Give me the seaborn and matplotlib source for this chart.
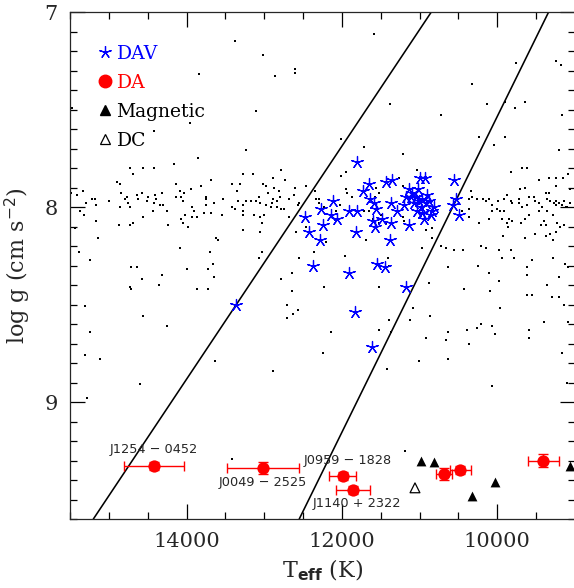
import matplotlib
matplotlib.use('Agg')
import matplotlib.pyplot as plt
from matplotlib.lines import Line2D
from matplotlib.ticker import MultipleLocator, FormatStrFormatter
import seaborn as sns

# background white dwarf sample (Teff in K, log g)
bg_teff = [15470, 14420, 13960, 13840, 13380, 13020, 12610, 12610, 12860, 13100, 13240, 13850, 14160, 14730,
           14560, 14420, 14690, 13280, 13140, 12790, 12890, 12730, 14890, 14860, 13690, 13420, 13310, 12980,
           14130, 13810, 13940, 13350, 12950, 12810, 15410, 15330, 14840, 14770, 14640, 14570, 14500, 14400,
           14320, 14090, 14030, 13750, 12610, 12620, 12460, 15490, 15220, 15180, 15290, 15160, 15000, 14860,
           14790, 14750, 14730, 14620, 14510, 14390, 14420, 14340, 14300, 14250, 14430, 14130, 14070, 14040,
           13750, 13650, 13930, 13900, 13780, 13750, 13530, 13420, 13380, 13340, 13280, 13230, 13170, 13100,
           13050, 12890, 12830, 12780, 12900, 12680, 12550, 15370, 15320, 15170, 14870, 14730, 14690, 14560,
           14240, 14070, 14050, 13980, 13930, 13870, 14020, 13680, 13540, 13280, 13130, 13060, 13000, 13030,
           15440, 15140, 13620, 13600, 13280, 13050, 13270, 12980, 12910, 12840, 12750, 12800, 13070, 12680,
           12560, 12590, 12330, 12290, 13020, 12880, 15390, 15240, 14080, 13700, 13660, 14000, 13720, 13070,
           13030, 12550, 14720, 14640, 14320, 14580, 13650, 12790, 14730, 14710, 14350, 13870, 13730, 12640,
           12640, 15310, 12710, 12570, 12630, 12710, 14560, 14250, 15240, 15310, 15120, 14600, 15280, 13630,
           12890, 13410,
           11590, 11380, 12010, 11710, 11220, 12010, 11950, 11870, 11930, 12300, 11220, 11030, 12350, 11950,
           11560, 11520, 11260, 12030, 12080, 11710, 11500, 11460, 11430, 11220, 11200, 10920, 10840, 12360,
           11960, 11410, 11390, 11690, 12200, 12230, 11520, 11520, 12140, 11090, 10970, 10840, 10730, 10660,
           10560, 10440, 10640, 10880, 11400, 11370, 11130, 10640, 10870, 12240, 11420, 10920, 10660, 11010,
           10630, 11190, 11650, 11600, 11520, 12460, 11580, 12230,
           10720, 10330, 10130, 10240, 9900, 10040, 9900, 9760, 9250, 9180, 9640, 9770, 9170, 9200, 9820,
           9680, 9620, 9470, 9340, 9250, 9710, 9640, 9380, 9240, 10340, 10320, 9160, 9090, 9060, 10260, 10190,
           10110, 10070, 9990, 9960, 10000, 10150, 10360, 10370, 10450, 9920, 9870, 9920, 10070, 9830, 9720,
           9590, 9530, 9510, 9460, 9360, 9320, 9270, 9250, 9170, 9120, 9070, 9810, 9720, 9680, 9620, 9420,
           9250, 9210, 9140, 9100, 9340, 9940, 9850, 9810, 9700, 9590, 9470, 9360, 9290, 9370, 9230, 9190,
           9140, 10240, 10360, 9860, 9930, 9640, 9380, 9250, 9290, 10110, 9870, 9640, 9400, 9510, 9440, 9320,
           10210, 10150, 9980, 9940, 9820, 9550, 9620, 9290, 9130, 9090, 10250, 10110, 9980, 9790, 10430,
           10090, 9620, 9360, 9620, 9550, 9210, 9200, 9140, 9300, 9960, 9400, 9090, 10390, 10260, 10030, 9590,
           10210, 10070, 10360, 9590, 9170, 9100, 10070]
bg_logg = [7.49, 7.61, 7.57, 7.32, 7.15, 7.22, 7.29, 7.31, 7.33, 7.51, 7.71, 7.75, 7.78, 7.80,
           7.80, 7.80, 7.83, 7.83, 7.83, 7.81, 7.85, 7.86, 7.87, 7.88, 7.86, 7.88, 7.88, 7.89,
           7.88, 7.89, 7.91, 7.92, 7.93, 7.92, 7.94, 7.92, 7.93, 7.95, 7.94, 7.93, 7.95, 7.94,
           7.93, 7.92, 7.93, 7.95, 7.90, 7.94, 7.89, 7.93, 7.96, 7.96, 7.98, 7.99, 7.97, 8.00,
           7.96, 7.98, 8.00, 7.96, 7.97, 7.96, 7.98, 7.99, 7.99, 8.02, 8.02, 7.95, 7.95, 7.97,
           7.96, 7.98, 8.00, 8.02, 8.03, 7.99, 7.96, 8.00, 8.01, 7.97, 7.99, 7.97, 7.97, 7.97,
           7.98, 7.96, 8.00, 8.01, 7.98, 7.96, 7.98, 8.02, 8.04, 8.07, 8.09, 8.09, 8.08, 8.05,
           8.09, 8.06, 8.08, 8.10, 8.05, 8.05, 8.04, 8.03, 8.04, 8.04, 8.04, 8.05, 8.04, 8.08,
           8.11, 8.16, 8.16, 8.17, 8.12, 8.13, 8.02, 7.99, 8.00, 7.97, 8.01, 7.95, 7.95, 8.05,
           7.99, 8.13, 7.96, 7.98, 7.88, 7.90, 8.23, 8.27, 8.21, 8.23, 8.29, 8.32, 8.32, 8.26,
           8.23, 8.26, 8.31, 8.31, 8.35, 8.37, 8.36, 8.37, 8.41, 8.42, 8.40, 8.42, 8.42, 8.43,
           8.34, 8.51, 8.50, 8.53, 8.55, 8.57, 8.56, 8.61, 8.64, 8.76, 8.78, 8.91, 8.98, 8.79,
           8.84, 9.29,
           7.11, 7.47, 7.65, 7.69, 7.73, 7.84, 7.82, 7.95, 7.93, 7.96, 7.89, 7.81, 7.92, 7.91,
           7.90, 7.93, 7.85, 7.99, 8.02, 8.02, 8.04, 8.06, 8.08, 8.05, 8.07, 8.12, 8.11, 8.23,
           8.25, 8.26, 8.30, 8.17, 8.18, 8.41, 8.41, 8.63, 8.64, 8.52, 8.21, 8.16, 8.20, 8.21,
           8.22, 8.22, 8.31, 8.39, 8.58, 8.64, 8.58, 8.64, 8.56, 8.75, 8.83, 8.67, 8.68, 8.79,
           8.78, 9.25, 8.02, 8.06, 8.08, 8.10, 7.95, 8.00,
           7.53, 7.37, 7.47, 7.64, 7.64, 7.68, 7.46, 7.26, 7.25, 7.27, 7.46, 7.49, 7.53, 7.71, 7.82,
           7.80, 7.80, 7.86, 7.85, 7.85, 7.91, 7.90, 7.93, 7.89, 7.92, 7.95, 7.85, 7.83, 7.91, 7.96, 7.96,
           7.96, 7.99, 7.97, 8.02, 8.01, 7.97, 7.96, 8.01, 8.02, 7.96, 7.94, 8.02, 8.02, 7.97, 7.96,
           7.95, 7.95, 7.97, 7.98, 7.96, 7.97, 7.98, 7.97, 7.99, 8.00, 7.98, 7.98, 7.98, 8.00, 7.99, 8.00,
           7.99, 7.98, 7.97, 8.00, 7.93, 8.06, 8.06, 8.07, 8.08, 8.04, 8.02, 8.02, 8.04, 8.09, 8.08, 8.10,
           8.09, 8.08, 8.05, 8.10, 8.15, 8.16, 8.15, 8.13, 8.17, 8.06, 8.08, 8.06, 8.07, 8.14, 8.09, 8.14,
           8.20, 8.21, 8.22, 8.26, 8.22, 8.27, 8.31, 8.26, 8.29, 8.31, 8.30, 8.34, 8.38, 8.26, 8.42,
           8.43, 8.35, 8.40, 8.45, 8.45, 8.36, 8.46, 8.50, 8.46, 8.52, 8.59, 8.59, 8.63, 8.62, 8.65, 8.63,
           8.60, 8.61, 8.70, 8.67, 8.75, 8.90, 8.92]

# ZZ Ceti stars
dav_teff = [13370, 11800, 11650, 11430, 11350, 10990, 10930, 10560, 11730, 11640, 11590, 11560, 12120,
            12270, 12480, 12140, 12060, 11910, 11800, 11370, 11290, 11200, 11100, 11170, 11050, 11010,
            10970, 10920, 10880, 10980, 11030, 10970, 10850, 10810, 10940, 11070, 11110, 10530, 10570,
            10490, 11600, 11570, 11480, 11370, 11140, 12250, 12430, 12280, 11820, 11380, 12370, 11910,
            11550, 11440, 11170, 11830, 11610, 11140, 10900, 10840, 11020]
dav_logg = [8.50, 7.77, 7.88, 7.87, 7.86, 7.85, 7.85, 7.86, 7.92, 7.96, 7.98, 8.01, 7.97,
            8.01, 8.05, 8.04, 8.06, 8.02, 8.02, 7.98, 8.02, 7.99, 7.93, 7.95, 7.95, 7.97,
            7.96, 7.98, 7.97, 8.00, 8.02, 8.03, 8.04, 8.00, 8.06, 7.98, 7.95, 7.96, 7.99,
            8.04, 8.07, 8.10, 8.06, 8.08, 8.09, 8.09, 8.13, 8.17, 8.13, 8.17, 8.30, 8.34,
            8.29, 8.31, 8.41, 8.54, 8.72, 7.91, 7.94, 8.02, 7.91]

# new DA white dwarfs
da_teff = [14420, 13020, 11990, 11860, 10690, 10480, 9410]
da_logg = [9.33, 9.34, 9.38, 9.45, 9.37, 9.35, 9.30]
da_teff_err = [390, 465, 175, 220, 100, 135, 200]
da_logg_err = [0.02, 0.03, 0.02, 0.02, 0.03, 0.02, 0.035]
da_names = ['J1254 − 0452', 'J0049 − 2525', 'J0959 − 1828', 'J1140 + 2322']
name_offsets = [(0, 12), (0, -10.5), (3.5, 11), (3, -10)]

mag_teff = [10985, 10820, 10320, 10030, 9060]
mag_logg = [9.30, 9.31, 9.48, 9.41, 9.33]

dc_teff = [11060]
dc_logg = [9.44]

# empirical ZZ Ceti instability strip edges
strip_logg = [7.0, 9.6]
blue_edge_teff = [10850, 15200]
red_edge_teff = [9340, 12550]

sns.set_style('ticks')
plt.rcParams['font.family'] = ['DejaVu Serif']
plt.rcParams['axes.linewidth'] = 0.9

fig = plt.figure(figsize=(5.74, 5.88), dpi=100)
ax = fig.add_axes([0.122, 0.1173, 0.8798, 0.8622])

sns.scatterplot(x=bg_teff, y=bg_logg, ax=ax, color='black', marker='s', s=1.0, linewidth=0, zorder=1)
ax.plot(blue_edge_teff, strip_logg, color='black', lw=1.15, zorder=2)
ax.plot(red_edge_teff, strip_logg, color='black', lw=1.15, zorder=2)

sns.scatterplot(x=dav_teff, y=dav_logg, ax=ax, marker=(5, 2, 0), s=75, color='blue', edgecolor='blue',
                linewidth=0.9, zorder=3)

ax.errorbar(da_teff, da_logg, xerr=da_teff_err, yerr=da_logg_err, fmt='none', ecolor='red',
            elinewidth=1, capsize=3.8, capthick=1, zorder=4)
sns.scatterplot(x=da_teff, y=da_logg, ax=ax, marker='o', s=78, color='red', linewidth=0, zorder=5)
for name, t, g, off in zip(da_names, da_teff, da_logg, name_offsets):
    ax.annotate(name, (t, g), xytext=off, textcoords='offset points', ha='center', va='center',
                fontsize=9.3, family='DejaVu Sans')

sns.scatterplot(x=mag_teff, y=mag_logg, ax=ax, marker='^', s=50, color='black', linewidth=0, zorder=4)
sns.scatterplot(x=dc_teff, y=dc_logg, ax=ax, marker='^', s=50, facecolor='none', edgecolor='black',
                linewidth=0.9, zorder=4)

ax.set_xlim(15500, 9000)
ax.set_ylim(9.6, 7.0)
ax.xaxis.set_major_locator(MultipleLocator(2000))
ax.xaxis.set_minor_locator(MultipleLocator(500))
ax.yaxis.set_major_locator(MultipleLocator(1))
ax.yaxis.set_minor_locator(MultipleLocator(0.1))
ax.yaxis.set_major_formatter(FormatStrFormatter('%d'))
ax.tick_params(which='both', direction='in', top=True, right=True, width=0.9, labelsize=15, color='black')
ax.tick_params(which='major', length=10.8, pad=9)
ax.tick_params(which='minor', length=5)
ax.set_xlabel(r'T$_{\bf eff}$ (K)', fontsize=16, labelpad=5)
ax.set_ylabel(r'log g (cm s$^{-2}$)', fontsize=16, labelpad=8)

handles = [
    Line2D([], [], ls='none', marker=(5, 2, 0), markersize=9, color='blue', mew=0.9),
    Line2D([], [], ls='none', marker='o', markersize=9, color='red'),
    Line2D([], [], ls='none', marker='^', markersize=7.5, color='black'),
    Line2D([], [], ls='none', marker='^', markersize=7.5, mfc='none', mec='black', mew=0.9),
]
ax.legend(handles, ['DAV', 'DA', 'Magnetic', 'DC'], loc='upper left', bbox_to_anchor=(0.055, 0.935),
          frameon=False, fontsize=13.5, handlelength=0.8, handletextpad=0.2, labelspacing=0.58,
          borderpad=0, borderaxespad=0, labelcolor=['blue', 'red', 'black', 'black'])

plt.savefig('out.png', dpi=100)
